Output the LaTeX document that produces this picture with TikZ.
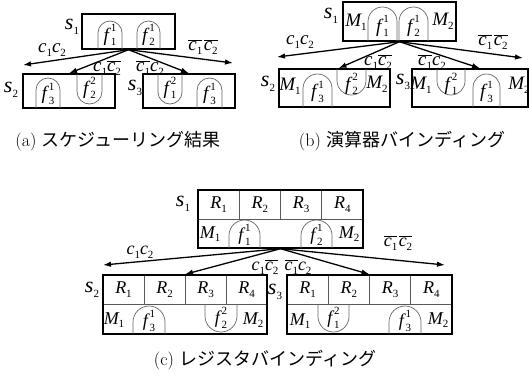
\documentclass[tikz,border=0pt]{standalone}
\usepackage{fontspec}
\usetikzlibrary{arrows.meta}
\newfontfamily\tms{Liberation Serif}
\newfontfamily\jp{Noto Sans CJK JP}
% small upright index, letter with index, f with index and step
\newcommand\idx[1]{{\fontsize{11}{11}\selectfont\upshape #1}}
\newcommand\sv[2]{#1\raisebox{-.45ex}{\idx{#2}}}
\newcommand\fv[3]{#1\kern.1em\rlap{\raisebox{-.55ex}{\idx{#2}}}\raisebox{1.1ex}{\idx{#3}}}
\newcommand\nc[1]{$\overline{\hbox{#1}}$}

\begin{document}
\begin{tikzpicture}[
  x=1pt,y=-1pt,
  state/.style={draw,line width=1.4pt,inner sep=0pt},
  cell/.style={draw=black!65,line width=0.6pt,inner sep=0pt,minimum width=41.25,minimum height=29},
  arch/.style={draw=black!60,line width=0.7pt},
  edge/.style={-{Latex[length=8pt,width=5.5pt]},line width=1.3pt},
  lbl/.style={font=\fontsize{19}{19}\selectfont\tms\itshape,inner sep=0pt},
  rlbl/.style={font=\fontsize{18}{18}\selectfont\tms\itshape},
  slbl/.style={font=\fontsize{22}{22}\selectfont\tms\itshape,inner sep=0pt},
  captxt/.style={font=\fontsize{18}{18}\selectfont,inner sep=0pt}
]
  \useasboundingbox (0,0) rectangle (529,383);

  % (a) scheduling
  \node[state,minimum width=93,minimum height=35] (a1) at (128.5,31.5) {};
  \node[state,minimum width=92,minimum height=34] (a2) at (69,91) {};
  \node[state,minimum width=92,minimum height=34] (a3) at (189,91) {};
  \node[slbl] (a1s) at (72,27) {\sv s1};
  \node[slbl] (a2s) at (11,90) {\sv s2};
  \node[slbl] (a3s) at (135,88) {\sv s3};
  \foreach \xa/\xb/\ya/\yb/\ly/\t [count=\k] in {98/122/49/21/35/{\fv f11},137/160/49/21/35/{\fv f21},
      36/60/108/78/94/{\fv f31},77/102/74/104/88/{\fv f22},158/182/74/104/88/{\fv f12},197/222/108/78/94/{\fv f31}} {
    \draw[arch,rounded corners={(\xb-\xa)/2}] (\xa,\ya) -- (\xa,\yb) -- (\xb,\yb) -- (\xb,\ya);
    \node[lbl] (fa\k) at ({(\xa+\xb)/2},\ly) {\t};
  }
  \coordinate (al) at (23,65);
  \coordinate (ar) at (233,63);
  \draw[edge] (a1.south) -- (al);
  \draw[edge] (a1.south) -- (a2.north);
  \draw[edge] (a1.south) -- (a3.north);
  \draw[edge] (a1.south) -- (ar);
  \node[lbl] (ac1) at (52,50) {\sv c1\sv c2};
  \node[lbl] (ac2) at (107,68) {\sv c1\nc{\sv c2}};
  \node[lbl] (ac3) at (150,68) {\nc{\sv c1}\sv c2};
  \node[lbl] (ac4) at (203,47) {\nc{\sv c1}\kern1.5pt\nc{\sv c2}};

  % (b) unit binding
  \node[state,minimum width=113,minimum height=39] (b1) at (399.5,21.5) {};
  \node[state,minimum width=111,minimum height=38] (b2) at (334.5,88) {};
  \node[state,minimum width=116,minimum height=38] (b3) at (470,88) {};
  \node[slbl] (b1s) at (331,16) {\sv s1};
  \node[slbl] (b2s) at (268,84) {\sv s2};
  \node[slbl] (b3s) at (403,82) {\sv s3};
  \node[lbl] (b1m1) at (356,22) {\sv M1};
  \node[lbl] (b1m2) at (443,21) {\sv M2};
  \node[lbl] (b2m1) at (290,86) {\sv M1};
  \node[lbl] (b2m2) at (377,84) {\sv M2};
  \node[lbl] (b3m1) at (421,85) {\sv M1};
  \node[lbl] (b3m2) at (519,85) {\sv M2};
  \foreach \xa/\xb/\ya/\yb/\ly/\t [count=\k] in {368/397/41/7/26/{\fv f11},399/428/41/7/26/{\fv f21},
      303/332/107/74/92/{\fv f31},337/366/69/95/84/{\fv f22},437/465/69/95/84/{\fv f12},473/500/107/74/92/{\fv f31}} {
    \draw[arch,rounded corners={(\xb-\xa)/2}] (\xa,\ya) -- (\xa,\yb) -- (\xb,\yb) -- (\xb,\ya);
    \node[lbl] (fb\k) at ({(\xa+\xb)/2},\ly) {\t};
  }
  \coordinate (bl) at (277,57);
  \coordinate (br) at (523,58);
  \draw[edge] (b1.south) -- (bl);
  \draw[edge] (b1.south) -- ([xshift=4]b2.north);
  \draw[edge] (b1.south) -- ([xshift=10]b3.north);
  \draw[edge] (b1.south) -- (br);
  \node[lbl] (bc1) at (300,42) {\sv c1\sv c2};
  \node[lbl] (bc2) at (378,62) {\sv c1\nc{\sv c2}};
  \node[lbl] (bc3) at (432,62) {\nc{\sv c1}\sv c2};
  \node[lbl] (bc4) at (493,42) {\nc{\sv c1}\kern1.5pt\nc{\sv c2}};

  % (c) register binding
  \foreach \i in {1,...,4} {
    \node[cell,rlbl] (c1r\i) at (198+41.25*\i-20.625,204.5) {\sv R\i};
    \node[cell,rlbl] (c2r\i) at (103+41*\i-20.5,289.5) {\sv R\i};
    \node[cell,rlbl] (c3r\i) at (287+41.25*\i-20.625,289.5) {\sv R\i};
  }
  \node[state,minimum width=165,minimum height=58] (c1) at (280.5,219) {};
  \node[state,minimum width=164,minimum height=59] (c2) at (185,304.5) {};
  \node[state,minimum width=165,minimum height=59] (c3) at (369.5,304.5) {};
  \node[slbl] (c1s) at (183,204) {\sv s1};
  \node[slbl] (c2s) at (92,290) {\sv s2};
  \node[slbl] (c3s) at (275,292) {\sv s3};
  \node[lbl,rlbl] (c1m1) at (210,234) {\sv M1};
  \node[lbl,rlbl] (c1m2) at (349,234) {\sv M2};
  \node[lbl,rlbl] (c2m1) at (114,320) {\sv M1};
  \node[lbl,rlbl] (c2m2) at (253,320) {\sv M2};
  \node[lbl,rlbl] (c3m1) at (300,321) {\sv M1};
  \node[lbl,rlbl] (c3m2) at (438,320) {\sv M2};
  \foreach \xa/\xb/\ya/\yb/\ly/\t [count=\k] in {229/260/248/220/235/{\fv f11},301/332/248/220/235/{\fv f21},
      133/165/334/306/321/{\fv f31},205/237/304/332/318/{\fv f22},318/349/304/332/318/{\fv f12},389/421/334/306/321/{\fv f31}} {
    \draw[arch,rounded corners={(\xb-\xa)/2}] (\xa,\ya) -- (\xa,\yb) -- (\xb,\yb) -- (\xb,\ya);
    \node[lbl,rlbl] (fc\k) at ({(\xa+\xb)/2},\ly) {\t};
  }
  \coordinate (cl) at (103,265);
  \coordinate (cr) at (445,265);
  \draw[edge] (c1.south) -- (cl);
  \draw[edge] (c1.south) -- (c2.north);
  \draw[edge] (c1.south) -- (c3.north);
  \draw[edge] (c1.south) -- (cr);
  \node[lbl,rlbl] (cc1) at (140,252) {\sv c1\sv c2};
  \node[lbl,rlbl] (cc2) at (265,267) {\sv c1\nc{\sv c2}};
  \node[lbl,rlbl] (cc3) at (298,267) {\nc{\sv c1}\sv c2};
  \node[lbl,rlbl] (cc4) at (398,243) {\nc{\sv c1}\kern1.5pt\nc{\sv c2}};

  % captions
  \node[captxt] (capa) at (118,141) {(a) {\jp スケジューリング結果}};
  \node[captxt] (capb) at (402,141) {(b) {\jp 演算器バインディング}};
  \node[captxt] (capc) at (265,360) {(c) {\jp レジスタバインディング}};
\end{tikzpicture}
\end{document}
